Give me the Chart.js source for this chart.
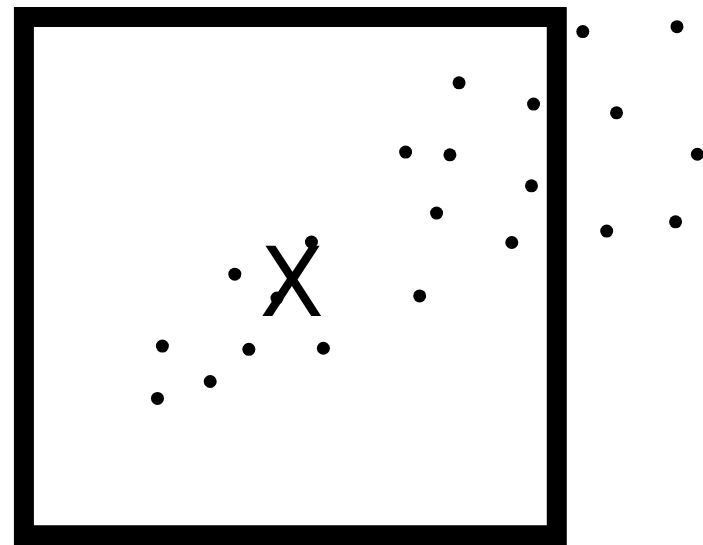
<!DOCTYPE html>
<html lang="en">
<head>
    <meta charset="UTF-8">
    <title>Scatter X</title>
    <script src="https://cdn.jsdelivr.net/npm/chart.js"></script>
    <style>
        body {
            margin: 0;
            background-color: #ffffff;
        }
        canvas {
            display: block;
        }
    </style>
</head>
<body>
    <canvas id="scatterChart" width="703" height="545"></canvas>

    <script>
        // dot positions (x, y) on a 0-100 scale for both axes
        const pointX = [82.9, 96.3, 65.3, 75.9, 87.7, 57.7, 64.0, 99.2, 75.6, 62.1,
                        86.3, 96.1, 72.8, 44.3, 33.4, 39.4, 59.7, 23.1, 35.4, 46.0,
                        29.9, 22.4];
        const pointY = [94.2, 95.1, 84.8, 80.9, 79.3, 72.1, 71.6, 71.7, 65.9, 60.9,
                        57.6, 59.3, 55.5, 55.6, 49.7, 45.3, 45.7, 36.5, 35.9, 36.1,
                        30.0, 26.9];

        // the square frame, traced from the middle of its top edge
        const frameX = [41.3, 79.2, 79.2, 3.4, 3.4, 41.3];
        const frameY = [96.9, 96.9, 1.8, 1.8, 96.9, 96.9];

        // text label
        const labelText = ['X'];
        const labelX = [41.5];
        const labelY = [46.6];

        function zip(xs, ys) {
            return xs.map((x, i) => ({ x: x, y: ys[i] }));
        }

        const labelPlugin = {
            id: 'labelPlugin',
            afterDatasetsDraw(chart) {
                const ctx = chart.ctx;
                const xs = chart.scales.x;
                const ys = chart.scales.y;
                labelText.forEach((t, i) => {
                    ctx.save();
                    ctx.translate(xs.getPixelForValue(labelX[i]), ys.getPixelForValue(labelY[i]));
                    ctx.scale(1.08, 1);
                    ctx.fillStyle = '#000000';
                    ctx.font = '97px "DejaVu Sans Condensed", "DejaVu Sans", sans-serif';
                    ctx.textAlign = 'center';
                    ctx.textBaseline = 'middle';
                    ctx.fillText(t, 0, 0);
                    ctx.restore();
                });
            }
        };

        const ctx = document.getElementById('scatterChart').getContext('2d');
        const chart = new Chart(ctx, {
            type: 'scatter',
            data: {
                datasets: [
                    {
                        type: 'line',
                        data: zip(frameX, frameY),
                        borderColor: '#000000',
                        borderWidth: 20,
                        borderJoinStyle: 'miter',
                        pointRadius: 0,
                        fill: false,
                        clip: false
                    },
                    {
                        data: zip(pointX, pointY),
                        backgroundColor: '#000000',
                        borderWidth: 0,
                        pointRadius: 6.5,
                        clip: false
                    }
                ]
            },
            plugins: [labelPlugin],
            options: {
                responsive: false,
                animation: false,
                layout: { padding: 0, autoPadding: false },
                scales: {
                    x: { type: 'linear', min: 0, max: 100, display: false },
                    y: { type: 'linear', min: 0, max: 100, display: false }
                },
                plugins: {
                    legend: { display: false },
                    tooltip: { enabled: false }
                }
            }
        });
    </script>
</body>
</html>
